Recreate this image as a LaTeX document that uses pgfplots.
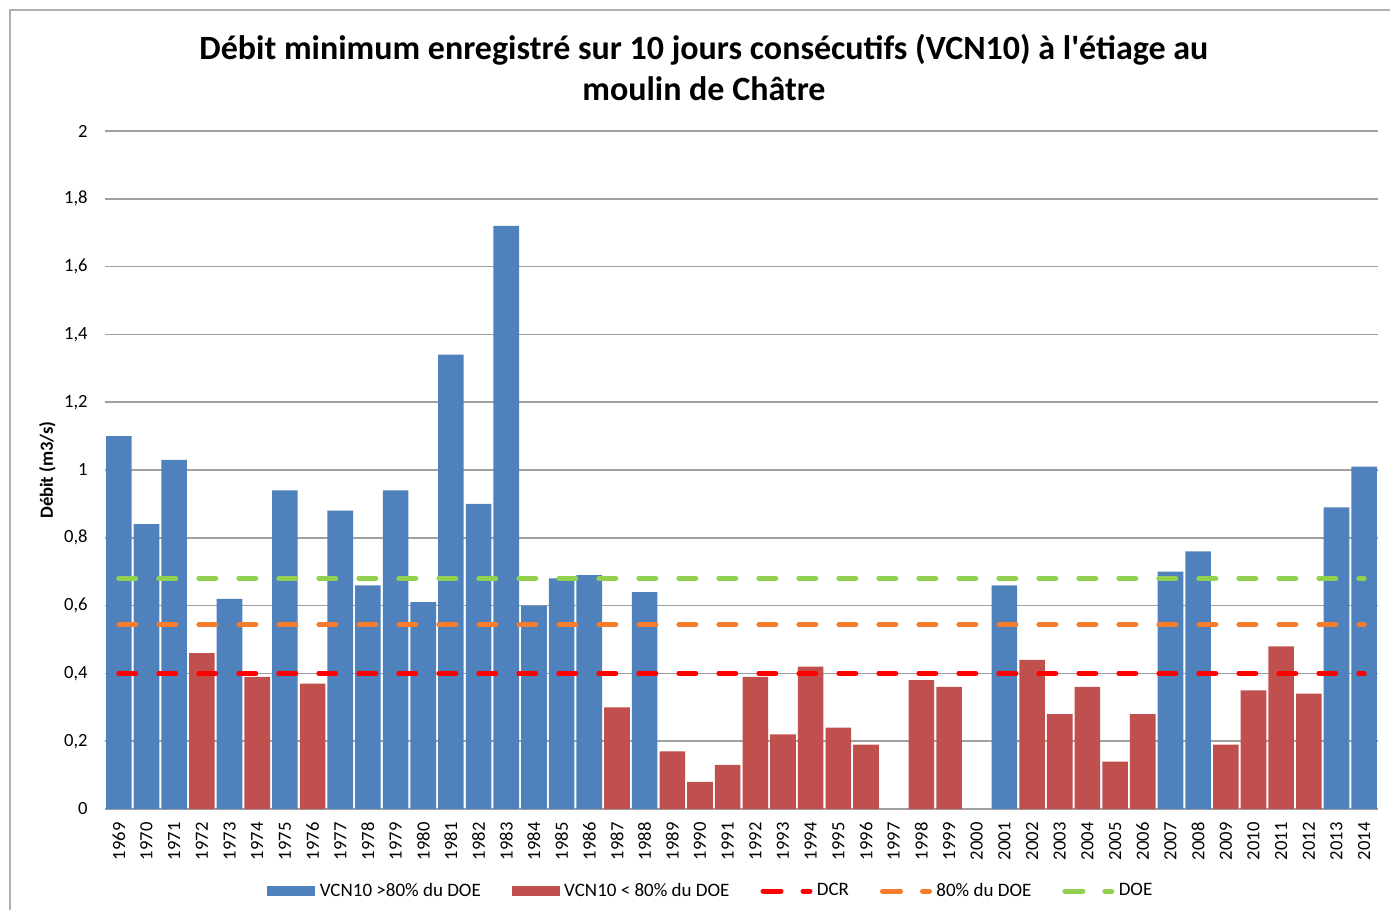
\documentclass[border=0pt]{standalone}
\usepackage{fontspec}
\setmainfont{Carlito}
\usepackage{pgfplots}
\pgfplotsset{compat=1.18}
\definecolor{cblue}{RGB}{79,129,189}
\definecolor{cred}{RGB}{192,80,77}
\definecolor{cdcr}{RGB}{255,0,0}
\definecolor{corange}{RGB}{245,125,45}
\definecolor{cgreen}{RGB}{146,208,80}
\definecolor{cgrid}{RGB}{160,160,160}
\definecolor{cframe}{RGB}{175,175,175}
\begin{document}
\begin{tikzpicture}
\useasboundingbox (-52.5pt,-50.5pt) rectangle (642.5pt,404.5pt);
\draw[cframe, line width=0.8pt] (-47.5pt,-50.5pt) -- (-47.5pt,399.5pt) -- (642.5pt,399.5pt);
\begin{axis}[
 at={(0,0)}, anchor=south west,
 scale only axis, width=636.5pt, height=339pt,
 xmin=-0.5, xmax=45.5, ymin=0, ymax=2,
 enlargelimits=false,
 axis line style={draw=none},
 major tick length=0pt,
 ymajorgrids, grid style={cgrid, line width=0.75pt},
 ytick={0,0.2,0.4,0.6,0.8,1,1.2,1.4,1.6,1.8,2},
 xtick={0,...,45},
 xticklabels={1969,1970,1971,1972,1973,1974,1975,1976,1977,1978,1979,1980,1981,1982,1983,1984,1985,1986,1987,1988,1989,1990,1991,1992,1993,1994,1995,1996,1997,1998,1999,2000,2001,2002,2003,2004,2005,2006,2007,2008,2009,2010,2011,2012,2013,2014},
 /pgf/number format/.cd, use comma, fixed, assume math mode=true,
 /pgfplots/.cd,
 tick label style={font=\fontsize{9.3}{11}\selectfont},
 xticklabel style={rotate=90, anchor=east, inner ysep=0pt, inner xsep=6.5pt},
 yticklabel style={anchor=east, inner sep=0pt, xshift=-8.5pt},
 title={Débit minimum enregistré sur 10 jours consécutifs (VCN10) à l\textquotesingle étiage au\\moulin de Châtre},
 title style={at={(axis description cs:0.4705,1.126)}, anchor=north, align=center, inner sep=0pt, font=\bfseries\fontsize{17}{20.5}\selectfont},
 ylabel={Débit (m3/s)},
 ylabel style={at={(axis description cs:-0.0452,0.5)}, anchor=center, font=\bfseries\fontsize{9.3}{11}\selectfont},
 legend columns=5,
 legend style={at={(axis description cs:0.1273,-0.121)}, anchor=west, draw=none, fill=none, inner sep=0pt,
   font=\fontsize{9.5}{11}\selectfont,
   nodes={inner sep=0pt},
   /tikz/every odd column/.append style={column sep=2.2pt},
   /tikz/every even column/.append style={column sep=15.5pt}},
]
\addplot[ybar, bar width=12.8pt, bar shift=0pt, fill=cblue, draw=none,
  legend image code/.code={\fill[cblue] (0pt,-2.5pt) rectangle (24pt,2.5pt);}]
 coordinates {(0,1.10) (1,0.84) (2,1.03) (4,0.62) (6,0.94) (8,0.88) (9,0.66) (10,0.94) (11,0.61) (12,1.34) (13,0.90) (14,1.72) (15,0.60) (16,0.68) (17,0.69) (19,0.64) (32,0.66) (38,0.70) (39,0.76) (44,0.89) (45,1.01)};
\addlegendentry{VCN10 >80\% du DOE}
\addplot[ybar, bar width=12.8pt, bar shift=0pt, fill=cred, draw=none,
  legend image code/.code={\fill[cred] (0pt,-2.5pt) rectangle (24pt,2.5pt);}]
 coordinates {(3,0.46) (5,0.39) (7,0.37) (18,0.30) (20,0.17) (21,0.08) (22,0.13) (23,0.39) (24,0.22) (25,0.42) (26,0.24) (27,0.19) (29,0.38) (30,0.36) (33,0.44) (34,0.28) (35,0.36) (36,0.14) (37,0.28) (40,0.19) (41,0.35) (42,0.48) (43,0.34)};
\addlegendentry{VCN10 < 80\% du DOE}
\addplot[cdcr, line width=2.5pt, line cap=round, dash pattern=on 8.5pt off 11.5pt,
  legend image code/.code={\draw[cdcr, line width=2.5pt, line cap=round, dash pattern=on 9pt off 11pt] (1.25pt,0pt) -- (24.75pt,0pt);}]
 coordinates {(0,0.40) (45,0.40)};
\addlegendentry{DCR}
\addplot[corange, line width=2.5pt, line cap=round, dash pattern=on 8.5pt off 11.5pt,
  legend image code/.code={\draw[corange, line width=2.5pt, line cap=round, dash pattern=on 9pt off 11pt] (1.25pt,0pt) -- (24.75pt,0pt);}]
 coordinates {(0,0.544) (45,0.544)};
\addlegendentry{80\% du DOE}
\addplot[cgreen, line width=2.5pt, line cap=round, dash pattern=on 8.5pt off 11.5pt,
  legend image code/.code={\draw[cgreen, line width=2.5pt, line cap=round, dash pattern=on 9pt off 11pt] (1.25pt,0pt) -- (24.75pt,0pt);}]
 coordinates {(0,0.68) (45,0.68)};
\addlegendentry{DOE}
\end{axis}
\end{tikzpicture}
\end{document}
